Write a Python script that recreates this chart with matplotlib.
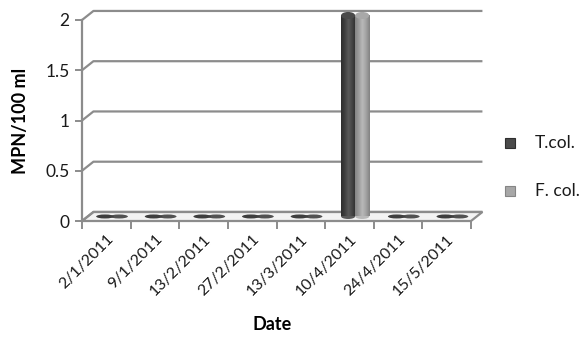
import numpy as np
import matplotlib
matplotlib.use('Agg')
import matplotlib.pyplot as plt
from matplotlib.patches import Polygon, Ellipse, Rectangle
from matplotlib.colors import LinearSegmentedColormap

# Sampling dates and coliform counts (MPN/100 ml)
dates = ['2/1/2011', '9/1/2011', '13/2/2011', '27/2/2011',
         '13/3/2011', '10/4/2011', '24/4/2011', '15/5/2011']
t_col = [0, 0, 0, 0, 0, 2, 0, 0]
f_col = [0, 0, 0, 0, 0, 2, 0, 0]
series_names = ['T.col.', 'F. col.']
y_ticks = [0, 0.5, 1, 1.5, 2]
y_tick_labels = ['0', '0.5', '1', '1.5', '2']

plt.rcParams['font.family'] = ['Lato', 'DejaVu Sans']

fig = plt.figure(figsize=(5.81, 3.4), dpi=100)
fig.patch.set_facecolor('white')
ax = fig.add_axes([82 / 581, 119 / 340, 389 / 581, 201 / 340])
ax.patch.set_visible(False)
for sp in ax.spines.values():
    sp.set_visible(False)

n = len(dates)
x = np.arange(n)
dx, dy = 0.235, 0.09          # depth offset of the back wall
grid = '#8c8c8c'

# floor
ax.add_patch(Polygon([(-0.5, 0), (n - 0.5, 0), (n - 0.5 + dx, dy), (-0.5 + dx, dy)],
                     closed=True, fc='#f3f3f3', ec=grid, lw=1.6,
                     clip_on=False, zorder=1))
# back-wall gridlines with their side-wall segments
for v in y_ticks:
    ax.plot([-0.5, -0.5 + dx, n - 0.5 + dx], [v, v + dy, v + dy],
            color=grid, lw=1.6, clip_on=False, zorder=1,
            solid_capstyle='butt')
# front value axis
ax.plot([-0.5, -0.5], [0, y_ticks[-1]], color=grid, lw=1.6,
        clip_on=False, zorder=2)

# cylinder shading
cmaps = [
    LinearSegmentedColormap.from_list('dk', ['#2e2e2e', '#3f3f3f', '#5a5a5a', '#454545', '#2c2c2c']),
    LinearSegmentedColormap.from_list('lt', ['#858585', '#9c9c9c', '#b9b9b9', '#a2a2a2', '#828282']),
]
cap_colors = ['#4a4a4a', '#a8a8a8']
disk_colors = ['#2a2a2a', '#404040']

w = 0.29
base = 0.5 * dy
grad = np.linspace(0, 1, 64).reshape(1, -1)
for k, vals in enumerate([t_col, f_col]):
    xc = x + 0.5 * dx + (k - 0.5) * w
    bars = ax.bar(xc, vals, width=w, bottom=base, color='none',
                  linewidth=0, zorder=3)
    for xi, v, b in zip(xc, vals, bars):
        if v > 0:
            im = ax.imshow(grad, cmap=cmaps[k], aspect='auto',
                           extent=[xi - w / 2, xi + w / 2, base, base + v],
                           zorder=3, interpolation='bilinear')
            im.set_clip_path(b)
            ax.add_patch(Ellipse((xi, base + v), w, 0.07, fc=cap_colors[k],
                                 ec='none', zorder=4, clip_on=False))
            ax.add_patch(Ellipse((xi, base), w, 0.05, fc=cmaps[k](0.5),
                                 ec='none', zorder=2.9))
        else:
            ax.add_patch(Ellipse((xi, base + v), w * 1.25, 0.04,
                                 fc=disk_colors[k], ec='none', zorder=3,
                                 alpha=0.9, clip_on=False))

ax.set_xlim(-0.5, n - 0.5)
ax.set_ylim(0, 2)

# category axis: tick marks at boundaries, labels at centres
ax.set_xticks(x)
ax.set_xticklabels(dates, rotation=45, ha='right', rotation_mode='anchor',
                   fontsize=11.5, color='#1a1a1a')
ax.set_xticks(np.arange(-0.5, n, 1), minor=True)
ax.tick_params(axis='x', which='major', length=0, pad=8)
ax.tick_params(axis='x', which='minor', length=6, width=1.4, color=grid)
ax.set_yticks(y_ticks)
ax.set_yticklabels(y_tick_labels, fontsize=12.5, color='#1a1a1a')
ax.tick_params(axis='y', length=5, width=1.4, color=grid, pad=4)

ax.set_ylabel('MPN/100 ml', fontsize=13, fontweight='bold', labelpad=12)
fig.text(272 / 581, 1 - 324 / 340, 'Date', ha='center', va='center',
         fontsize=13, fontweight='bold')

# legend
for k, name in enumerate(series_names):
    yc = 1 - (143 + 48 * k) / 340
    fig.patches.append(Rectangle((505 / 581, yc - 5 / 340), 10 / 581, 10 / 340,
                                 transform=fig.transFigure, fc=cmaps[k](0.35),
                                 ec=cmaps[k](0.0), lw=0.8))
    fig.text(535 / 581, yc, name, ha='left', va='center', fontsize=12.5,
             color='#1a1a1a')

fig.savefig('out.png', dpi=100)
